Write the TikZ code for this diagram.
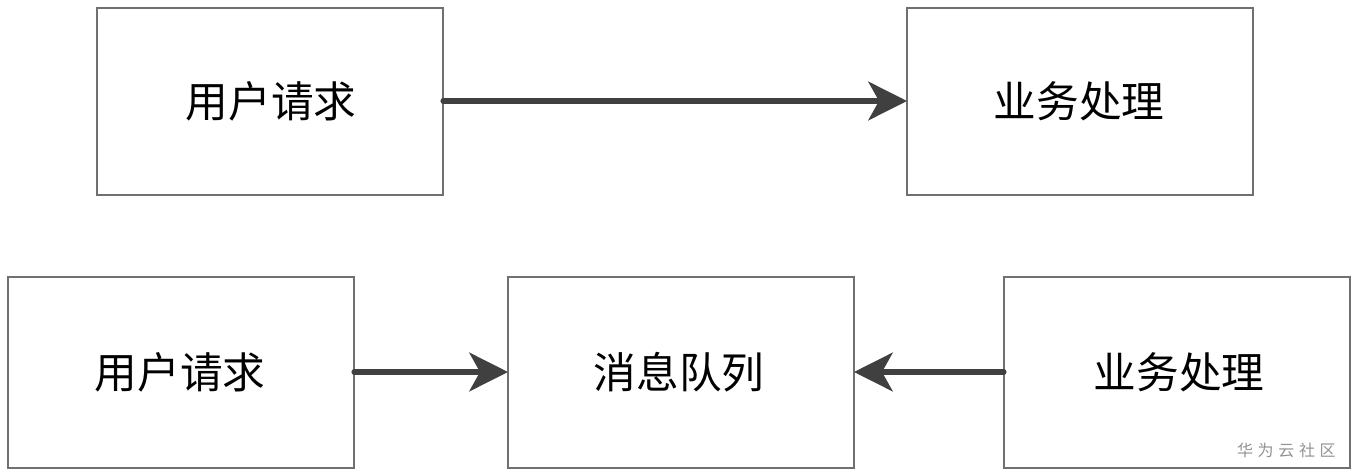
\documentclass[tikz,border=0pt]{standalone}
\usepackage{fontspec}
\newfontfamily\cjk{Noto Sans CJK SC}
\usetikzlibrary{arrows.meta}
\definecolor{boxline}{HTML}{707070}
\definecolor{arrowc}{HTML}{404040}
\begin{document}
\begin{tikzpicture}[x=0.75pt,y=-0.75pt,
  box/.style={draw=boxline,line width=1pt,fill=white},
  lbl/.style={font=\cjk\fontsize{32}{36}\selectfont,text=black},
  conn/.style={draw=arrowc,line width=3.8pt,line cap=round,
    -{Stealth[length=29pt,width=29pt,inset=8pt,line cap=butt]}}]
\useasboundingbox (0,0) rectangle (1360,475);
\fill[white] (0,0) rectangle (1360,475);
% top row
\draw[box] (97,8) rectangle (443,195);
\node[lbl] (u1) at (271,101.5) {用户请求};
\coordinate (u1e) at (443,101);
\draw[box] (907,8) rectangle (1253,195);
\node[lbl] (b1) at (1079,101.5) {业务处理};
\coordinate (b1w) at (907,101);
% bottom row
\draw[box] (8,277) rectangle (354,468);
\node[lbl] (u2) at (180,372.5) {用户请求};
\coordinate (u2e) at (354,372);
\draw[box] (508,277) rectangle (854,468);
\node[lbl] (q) at (679,372.5) {消息队列};
\coordinate (qw) at (508,372);
\coordinate (qe) at (854,372);
\draw[box] (1004,277) rectangle (1350,468);
\node[lbl] (b2) at (1179,372.5) {业务处理};
\coordinate (b2w) at (1004,372);
% connectors
\draw[conn] (u1e) -- (b1w);
\draw[conn] (u2e) -- (qw);
\draw[conn] (b2w) -- (qe);
% watermark
\node[font=\cjk\fontsize{12}{14}\selectfont,text=gray!85,anchor=east,inner sep=0pt] (wm) at (1336,450) {华\hspace{3.5pt}为\hspace{3.5pt}云\hspace{3.5pt}社\hspace{3.5pt}区};
\end{tikzpicture}
\end{document}
